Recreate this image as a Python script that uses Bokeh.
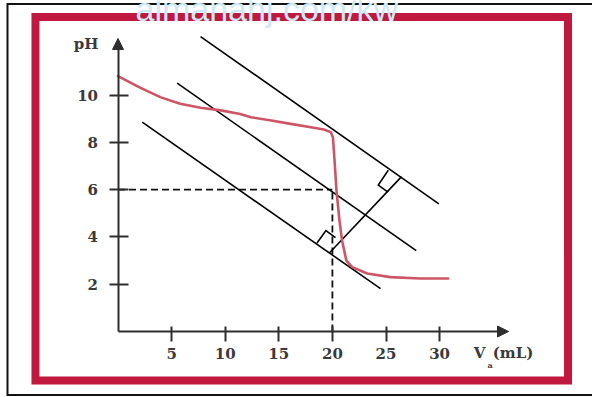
from bokeh.plotting import figure
from bokeh.models import Range1d, LinearAxis, FixedTicker, Arrow, NormalHead, Label
from bokeh.embed import file_html
from bokeh.resources import INLINE

# ---------------- data ----------------
volume_ml = [0.0, 2.1, 4.0, 5.8, 7.7, 9.6, 11.4, 12.4, 14.3, 16.1, 18.0, 19.2, 19.85,
             20.05, 20.2, 20.38, 20.66, 20.9, 21.3, 21.85, 23.25, 25.4, 28.2, 30.8]
ph_values = [10.8, 10.3, 9.9, 9.63, 9.46, 9.35, 9.2, 9.06, 8.92, 8.78, 8.64, 8.54, 8.43,
             8.2, 7.23, 5.96, 4.69, 3.85, 3.0, 2.72, 2.45, 2.30, 2.24, 2.24]

x_ticks = [5, 10, 15, 20, 25, 30]
y_ticks = [2, 4, 6, 8, 10]

# parallel tangent lines (start, end)
top_line_v = [7.70, 29.93]
top_line_ph = [12.47, 5.40]
mid_line_v = [5.52, 27.82]
mid_line_ph = [10.50, 3.42]
bot_line_v = [2.26, 24.49]
bot_line_ph = [8.85, 1.81]

# perpendicular between outer tangents
perp_v = [19.76, 26.45]
perp_ph = [3.34, 6.55]

# right-angle marks
sq_top_v = [25.21, 24.28, 25.19]
sq_top_ph = [6.82, 6.19, 5.89]
sq_bot_v = [18.56, 19.40, 20.29]
sq_bot_ph = [3.74, 4.27, 3.97]

# equivalence point
eq_v = 20
eq_ph = 6

# ---------------- figure ----------------
W, H = 592, 397
p = figure(width=W, height=H,
           x_range=Range1d(-10.961, 44.263), y_range=Range1d(-2.791, 13.996),
           output_backend="svg", toolbar_location=None,
           x_axis_location=None, y_axis_location=None,
           min_border=0, min_border_left=0, min_border_right=0,
           min_border_top=0, min_border_bottom=0,
           outline_line_color=None, background_fill_color="white",
           border_fill_color="white")
p.grid.visible = False

BLACK_FRAME = "#111111"
RED_FRAME = "#c0183f"
AXIS_C = "#2e2e2e"
TXT_C = "#3a3a3a"
CURVE_C = "#cf5566"

# watermark (mostly cut off at the top edge)
p.add_layout(Label(x=1.63, y=13.64, text="almanahj.com/kw", text_align="left",
                   text_baseline="alphabetic", text_font="Liberation Sans",
                   text_font_size="34px", text_color="#cdeaf6"))

# outer black border (left, top, bottom)
p.line(x=[44.263, -10.308, -10.308, 44.263], y=[13.848, 13.848, -2.685, -2.685],
       line_color=BLACK_FRAME, line_width=2, line_join="miter")

# red frame
p.quad(left=[-7.70], right=[41.98], top=[13.30], bottom=[-2.07],
       fill_color=None, line_color=RED_FRAME, line_width=8, line_join="miter")

# axes
yaxis = LinearAxis(fixed_location=0, bounds=(0, 12.2), ticker=FixedTicker(ticks=y_ticks))
xaxis = LinearAxis(fixed_location=0, bounds=(0, 36.2), ticker=FixedTicker(ticks=x_ticks))
for ax in (xaxis, yaxis):
    ax.axis_line_color = AXIS_C
    ax.axis_line_width = 2
    ax.major_tick_line_color = AXIS_C
    ax.major_tick_line_width = 2
    ax.minor_tick_line_color = None
    ax.major_label_text_font = "DejaVu Serif"
    ax.major_label_text_font_style = "bold"
    ax.major_label_text_font_size = "15px"
    ax.major_label_text_color = TXT_C
yaxis.major_tick_in = 10
yaxis.major_tick_out = 9
yaxis.major_label_standoff = 11
xaxis.major_tick_in = 5
xaxis.major_tick_out = 10
xaxis.major_label_standoff = 7
p.add_layout(yaxis, "left")
p.add_layout(xaxis, "below")

p.add_layout(Arrow(end=NormalHead(size=11, fill_color=AXIS_C, line_color=AXIS_C),
                   x_start=0, y_start=11.9, x_end=0, y_end=12.39,
                   line_color=AXIS_C, line_width=2))
p.add_layout(Arrow(end=NormalHead(size=11, fill_color=AXIS_C, line_color=AXIS_C),
                   x_start=35.5, y_start=0, x_end=36.43, y_end=0,
                   line_color=AXIS_C, line_width=2))

# axis titles
p.add_layout(Label(x=-1.82, y=12.14, text="pH", text_align="right", text_baseline="middle",
                   text_font="DejaVu Serif", text_font_style="bold",
                   text_font_size="15px", text_color=TXT_C))
p.add_layout(Label(x=33.72, y=-0.93, text="V", text_align="center", text_baseline="middle",
                   text_font="DejaVu Serif", text_font_style="bold",
                   text_font_size="15px", text_color=TXT_C))
p.add_layout(Label(x=34.70, y=-1.40, text="a", text_align="center", text_baseline="middle",
                   text_font="DejaVu Serif", text_font_style="bold",
                   text_font_size="8px", text_color=TXT_C))
p.add_layout(Label(x=34.95, y=-0.93, text="(mL)", text_align="left", text_baseline="middle",
                   text_font="DejaVu Serif", text_font_style="bold",
                   text_font_size="15px", text_color=TXT_C))

# dashed guides to the equivalence point
p.line(x=[0, eq_v], y=[eq_ph, eq_ph], line_color="#111111", line_width=1.8, line_dash="7 4")
p.line(x=[eq_v, eq_v], y=[0, eq_ph], line_color="#111111", line_width=1.8, line_dash="7 4")

# tangent lines
for xs, ys in ((top_line_v, top_line_ph), (mid_line_v, mid_line_ph), (bot_line_v, bot_line_ph)):
    p.line(x=xs, y=ys, line_color="black", line_width=1.6)

p.line(x=perp_v, y=perp_ph, line_color="black", line_width=1.6)
p.line(x=sq_top_v, y=sq_top_ph, line_color="black", line_width=1.6, line_join="miter")
p.line(x=sq_bot_v, y=sq_bot_ph, line_color="black", line_width=1.6, line_join="miter")

# titration curve
p.line(x=volume_ml, y=ph_values, line_color=CURVE_C, line_width=2.6, line_join="round",
       line_cap="round")

open("out.html", "w").write(file_html(p, INLINE))
